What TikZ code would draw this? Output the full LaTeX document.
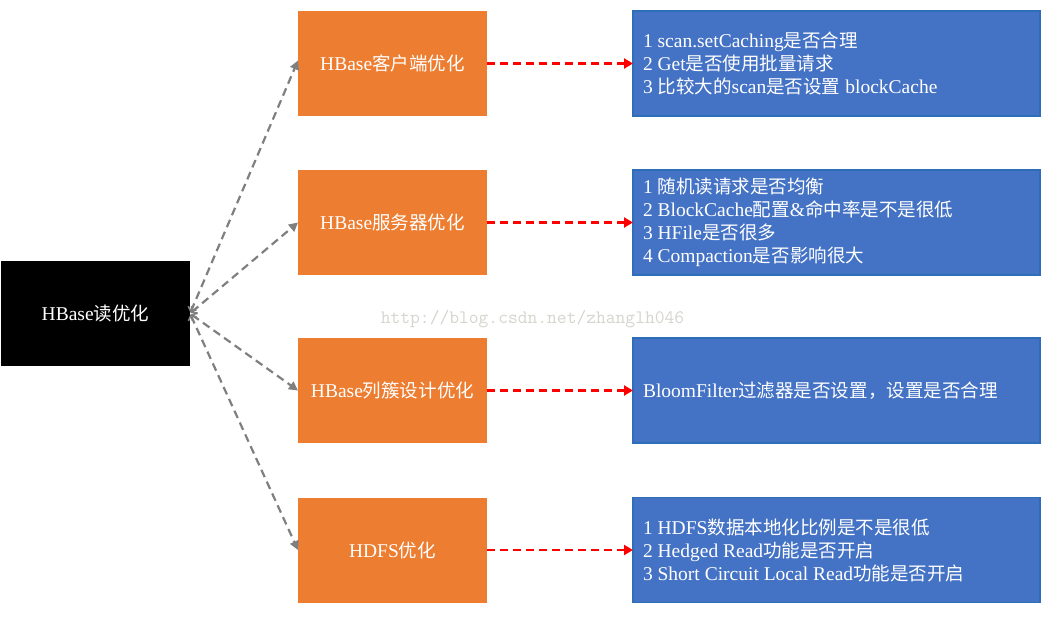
\documentclass[tikz,border=0pt]{standalone}
\usepackage{fontspec}
\setmainfont{Liberation Serif}
\newfontfamily\cjkfont{Noto Sans CJK SC}[Scale=0.95]
\newcommand\cj[1]{{\cjkfont #1}}
\usetikzlibrary{arrows.meta}
\definecolor{boxorange}{HTML}{ED7D31}
\definecolor{boxblue}{HTML}{4472C4}
\definecolor{boxblueedge}{HTML}{2E6DB8}
\definecolor{arrowgray}{HTML}{7F7F7F}
\definecolor{wmgray}{HTML}{D6D4CE}
\tikzset{
  rootbox/.style={fill=black, text=white, minimum width=189pt, minimum height=105pt, inner sep=0pt, outer sep=0pt, font=\fontsize{19.5}{23}\selectfont},
  obox/.style={fill=boxorange, text=white, minimum width=189pt, minimum height=105pt, inner sep=0pt, outer sep=0pt, font=\fontsize{19.5}{23}\selectfont},
  bbox/.style={fill=boxblue, draw=boxblueedge, line width=1.3pt, text=white, minimum width=407pt, minimum height=105pt, inner xsep=10pt, inner ysep=0pt, outer sep=0pt, text width=387pt, align=flush left, font=\fontsize{19.5}{23}\selectfont},
  grayarrow/.style={draw=arrowgray, line width=2.2pt, dash pattern=on 8pt off 5pt, {Straight Barb[length=4pt,width=9pt,line width=1.6pt]}-{Triangle[length=9pt,width=9pt]}, shorten <=1pt},
  redarrow/.style={draw=red, line width=2.2pt, dash pattern=on 8pt off 5pt, -{Triangle[length=9pt,width=10pt]}},
  watermark/.style={text=wmgray, font=\ttfamily\fontsize{19}{22}\selectfont, inner sep=0pt}
}
\begin{document}
\begin{tikzpicture}[x=1pt,y=-1pt]
\useasboundingbox (0,0) rectangle (1047,616);
\node[watermark] (wm) at (532.5,319) {http://blog.csdn.net/zhanglh046};
\node[rootbox] (root) at (95.5,313.5) {HBase\cj{读优化}};
\node[obox] (o1) at (392.5,63.5) {HBase\cj{客户端优化}};
\node[obox] (o2) at (392.5,222.5) {HBase\cj{服务器优化}};
\node[obox] (o3) at (392.5,390.5) {HBase\cj{列簇设计优化}};
\node[obox] (o4) at (392.5,550) {HDFS\cj{优化}};
\node[bbox] (b1) at (836.5,63.5) {1 scan.setCaching\cj{是否合理}\\2 Get\cj{是否使用批量请求}\\3 \cj{比较大的}scan\cj{是否设置} blockCache};
\node[bbox] (b2) at (836.5,222.5) {1 \cj{随机读请求是否均衡}\\2 BlockCache\cj{配置}\&\cj{命中率是不是很低}\\3 HFile\cj{是否很多}\\4 Compaction\cj{是否影响很大}};
\node[bbox] (b3) at (836.5,390.5) {BloomFilter\cj{过滤器是否设置，设置是否合理}};
\node[bbox] (b4) at (836.5,550) {1 HDFS\cj{数据本地化比例是不是很低}\\2 Hedged Read\cj{功能是否开启}\\3 Short Circuit Local Read\cj{功能是否开启}};
\draw[grayarrow] (root.east) -- ([yshift=3pt]o1.west);
\draw[grayarrow] (root.east) -- (o2.west);
\draw[grayarrow] (root.east) -- (o3.west);
\draw[grayarrow] (root.east) -- (o4.west);
\draw[redarrow] (o1.east) -- (b1.west);
\draw[redarrow] (o2.east) -- (b2.west);
\draw[redarrow] (o3.east) -- (b3.west);
\draw[redarrow] (o4.east) -- (b4.west);
\end{tikzpicture}
\end{document}
